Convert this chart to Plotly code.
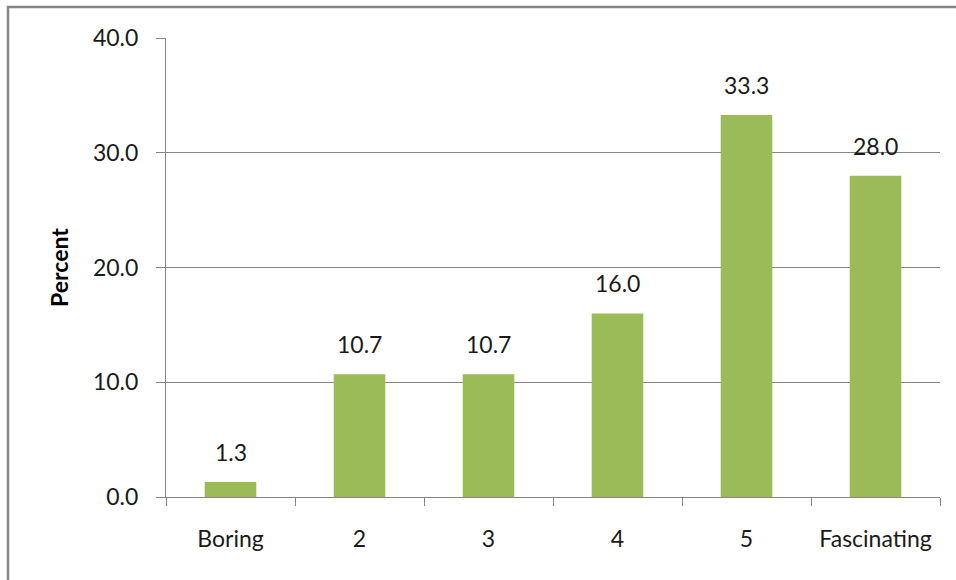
import plotly.graph_objects as go

categories = ["Boring", "2", "3", "4", "5", "Fascinating"]
percent = [1.3, 10.7, 10.7, 16.0, 33.3, 28.0]
y_ticks = [0, 10, 20, 30, 40]
y_tick_labels = ["0.0", "10.0", "20.0", "30.0", "40.0"]

FONT = "Lato"
GRAY = "#868686"
GREEN = "#9BBB59"
TXT = "#1a1a1a"
FS = 23

fig = go.Figure()
fig.add_trace(go.Bar(
    x=list(range(len(categories))), y=percent,
    marker=dict(color=GREEN, line=dict(width=0)),
    hoverinfo="skip",
))

for i, v in enumerate(percent):
    fig.add_annotation(
        x=i, y=v, text=f"{v:.1f}", showarrow=False,
        yanchor="bottom", yshift=14,
        font=dict(family=FONT, size=FS, color=TXT),
    )

fig.update_layout(
    width=956, height=580,
    margin=dict(l=166, r=16, t=38, b=83),
    paper_bgcolor="white", plot_bgcolor="white",
    showlegend=False,
    bargap=0.6,
    font=dict(family=FONT, size=FS, color=TXT),
)

fig.update_xaxes(
    type="linear", range=[-0.5, len(categories) - 0.5],
    tickvals=list(range(len(categories))), ticktext=categories,
    showline=True, linecolor=GRAY, linewidth=1,
    ticks="", showgrid=False, zeroline=False, ticklabelstandoff=21,
    tickfont=dict(family=FONT, size=FS, color=TXT),
)
# category boundary ticks via a secondary overlaying axis
fig.update_layout(xaxis2=dict(
    overlaying="x", anchor="y", side="bottom", matches="x",
    tickvals=[i - 0.5 for i in range(len(categories) + 1)],
    showticklabels=False, ticks="outside", ticklen=8, tickcolor=GRAY,
    showgrid=False, zeroline=False, showline=False,
))
fig.add_trace(go.Scatter(x=[0], y=[0], xaxis="x2", mode="markers",
                         marker=dict(opacity=0), hoverinfo="skip", showlegend=False))

fig.update_yaxes(
    range=[0, 40],
    tickvals=y_ticks, ticktext=y_tick_labels,
    showline=True, linecolor=GRAY, linewidth=1,
    ticks="outside", ticklen=9, tickcolor=GRAY,
    showgrid=True, gridcolor=GRAY, gridwidth=1,
    zeroline=False,
    ticklabelstandoff=13,
    tickfont=dict(family=FONT, size=FS, color=TXT),
    title=dict(text="<b>Percent</b>", font=dict(family=FONT, size=23, color="#000000"), standoff=17),
)

# outer chart border
fig.add_shape(type="rect", xref="paper", yref="paper",
              x0=(8 - 166) / 774, x1=1.2, y0=-0.4, y1=(497 - 7) / 459,
              line=dict(color=GRAY, width=2.5), fillcolor="rgba(0,0,0,0)", layer="below")

fig.write_html("out.html")
